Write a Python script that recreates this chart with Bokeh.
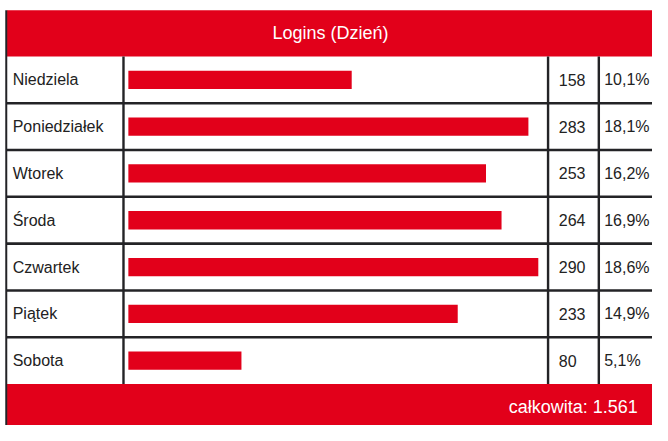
from bokeh.plotting import figure
from bokeh.models import Range1d, ColumnDataSource
from bokeh.core.properties import value
from bokeh.embed import file_html
from bokeh.resources import INLINE

# ---- data ----
title = "Logins (Dzień)"
days = ["Niedziela", "Poniedziałek", "Wtorek", "Środa", "Czwartek", "Piątek", "Sobota"]
logins = [158, 283, 253, 264, 290, 233, 80]
total_label = "całkowita"

total = sum(logins)
pct_labels = [("%.1f%%" % (100.0 * v / total)).replace(".", ",") for v in logins]
val_labels = [str(v) for v in logins]
total_text = "%s: %s" % (total_label, "{:,}".format(total).replace(",", "."))

# ---- layout (in page-like units) ----
RED = "#E2001A"
LINE = "#232326"
TXT = "#222222"
FONT = value("Liberation Sans")
X0, X1 = 0, 668
Y0, Y1 = 0, 441
HEAD_TOP, ROWS_TOP, ROWS_BOT = 10, 58, 398
n = len(days)
row_h = (ROWS_BOT - ROWS_TOP) / n
centers = [ROWS_TOP + row_h * (i + 0.5) for i in range(n)]
COL1, COL2, COL3 = 126, 561, 613

p = figure(width=652, height=425, output_backend="svg", toolbar_location=None,
           x_range=Range1d(X0, X1), y_range=Range1d(Y1, Y0), min_border=0)
p.axis.visible = False
p.grid.visible = False
p.outline_line_color = None
p.background_fill_color = "white"
p.border_fill_color = "white"

# bar value scale: 0 at x=131, 290 at x=551
px_per = (551 - 131) / 290.0
p.extra_x_ranges = {"bars": Range1d((X0 - 131) / px_per, (X1 - 131) / px_per)}

# header / footer bands
p.quad(left=6.7, right=700, top=HEAD_TOP, bottom=ROWS_TOP, fill_color=RED, line_color=None)
p.quad(left=6.7, right=700, top=ROWS_BOT, bottom=460, fill_color=RED, line_color=None)

# grid lines
for i in range(1, n):
    yb = ROWS_TOP + row_h * i
    p.segment(x0=6, y0=yb, x1=700, y1=yb, line_color=LINE, line_width=2.6)
for xc in (COL1, COL2, COL3):
    p.segment(x0=xc, y0=ROWS_TOP, x1=xc, y1=ROWS_BOT, line_color=LINE, line_width=2.4)
p.segment(x0=5.9, y0=HEAD_TOP, x1=5.9, y1=460, line_color=LINE, line_width=2)

src = ColumnDataSource(dict(y=centers, day=days, v=logins, vl=val_labels, pl=pct_labels))

# bars
p.hbar(y="y", left=0, right="v", height=19, source=src, x_range_name="bars",
       fill_color=RED, line_color=None)

# texts
p.text(x=12.5, y="y", text="day", source=src, text_font=FONT, text_font_size="16px",
       text_color=TXT, text_baseline="middle", text_align="left")
p.text(x=572, y="y", text="vl", source=src, text_font=FONT, text_font_size="16px",
       text_color=TXT, text_baseline="middle", text_align="left")
p.text(x=618.5, y="y", text="pl", source=src, text_font=FONT, text_font_size="16px",
       text_color=TXT, text_baseline="middle", text_align="left")
p.text(x=[338], y=[(HEAD_TOP + ROWS_TOP) / 2], text=[title], text_font=FONT,
       text_font_size="18px", text_color="white", text_baseline="middle", text_align="center")
p.text(x=[653], y=[422], text=[total_text], text_font=FONT,
       text_font_size="18px", text_color="white", text_baseline="middle", text_align="right")

open("out.html", "w").write(file_html(p, INLINE))
